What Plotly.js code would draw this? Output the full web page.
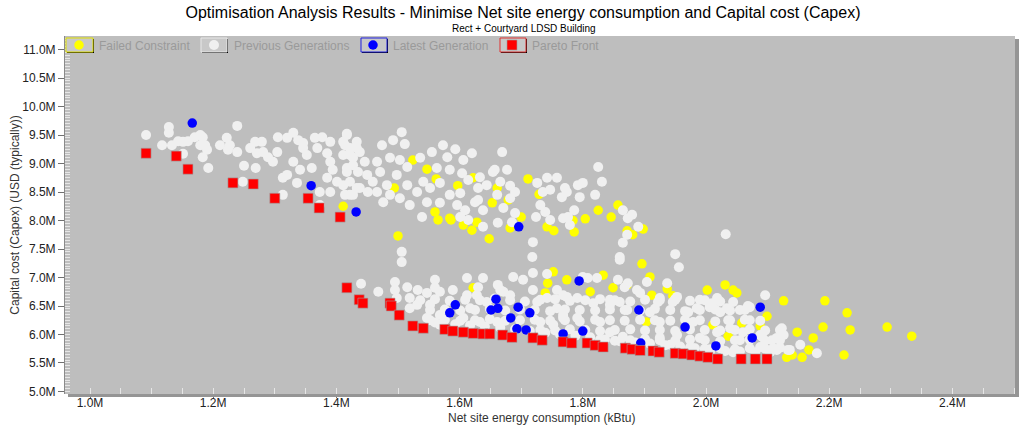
<!DOCTYPE html>
<html><head><meta charset="utf-8">
<script src="https://cdn.plot.ly/plotly-3.0.1.min.js"></script>
<style>html,body{margin:0;padding:0;background:#fff;}#chart{width:1023px;height:425px;}</style>
</head><body><div id="chart"></div>
<script>
// ---- data (energy in M kBtu, capex in M USD) ----
const failedEnergy = [1.411,1.500,1.565,1.586,1.606,1.620,1.628,1.648,1.682,1.700,
1.711,1.729,1.742,1.753,1.524,1.547,1.562,1.494,1.597,1.622,
1.661,1.679,1.653,1.560,1.825,1.804,1.784,1.786,1.846,1.857,
1.872,1.881,1.898,1.584,1.896,1.752,1.743,1.739,1.774,1.833,
1.849,1.812,1.909,1.937,1.912,1.946,2.002,2.031,2.044,2.050,
2.126,2.148,2.099,2.088,2.131,2.140,1.622,1.903,2.011,2.036,
2.193,2.229,2.234,2.294,2.334,2.190,2.174,2.224,2.167,2.156,
1.872,2.058];
const failedCapex = [8.25,7.73,8.01,8.01,7.92,7.83,7.97,7.68,7.87,8.06,
8.73,8.46,7.89,7.82,9.06,8.90,8.73,8.57,8.61,8.75,
8.57,8.36,8.31,8.15,8.18,8.03,8.00,7.80,8.06,8.27,
7.82,7.75,7.85,8.04,7.24,7.10,6.90,6.73,6.96,7.04,
6.82,6.75,7.01,6.80,6.69,6.68,6.78,6.87,6.78,6.73,
6.59,6.04,6.32,6.15,5.60,5.64,6.82,6.22,6.17,5.97,
6.59,6.38,6.08,6.13,5.97,6.13,5.94,5.64,5.73,5.60,
6.87,6.20];

const prevUpperEnergy = [1.091,1.128,1.128,1.117,1.133,1.143,1.151,1.159,1.170,1.179,
1.183,1.179,1.187,1.190,1.183,1.192,1.151,1.239,1.222,1.211,
1.227,1.239,1.224,1.250,1.269,1.248,1.260,1.268,1.279,1.271,
1.281,1.289,1.297,1.304,1.305,1.320,1.330,1.338,1.346,1.365,
1.377,1.320,1.313,1.336,1.341,1.330,1.352,1.360,1.346,1.369,
1.385,1.390,1.394,1.385,1.373,1.390,1.401,1.417,1.414,1.422,
1.433,1.427,1.417,1.411,1.422,1.433,1.313,1.373,1.411,1.390,
1.417,1.433,1.422,1.411,1.427,1.438,1.446,1.417,1.435,1.450,
1.422,1.438,1.427,1.414,1.451,1.466,1.459,1.471,1.466,1.474,
1.492,1.506,1.511,1.487,1.503,1.515,1.498,1.482,1.487,1.476,
1.503,1.519,1.515,1.531,1.541,1.552,1.536,1.555,1.573,1.593,
1.580,1.606,1.620,1.563,1.584,1.604,1.614,1.633,1.644,1.568,
1.584,1.568,1.547,1.596,1.609,1.625,1.638,1.630,1.654,1.669,
1.677,1.666,1.682,1.661,1.682,1.671,1.690,1.638,1.614,1.539,
1.662,1.685,1.719,1.726,1.742,1.758,1.735,1.747,1.731,1.739,
1.747,1.766,1.774,1.768,1.779,1.657,1.771,1.792,1.800,1.795,
1.724,1.786,1.776,1.825,1.831,1.820,1.865,1.880,1.873,1.890,
1.872,1.865,1.860,1.718,1.950,2.032,1.690,1.630,1.601,1.601,
1.506,1.506,1.956];
const prevUpperCapex = [9.50,9.64,9.54,9.32,9.32,9.39,9.38,9.39,9.46,9.50,
9.46,9.32,9.32,9.24,9.11,8.92,9.17,9.66,9.45,9.32,
9.32,9.20,9.24,8.96,8.92,8.68,9.27,9.38,9.38,9.18,
9.20,9.11,9.03,9.20,9.46,9.45,9.54,9.41,9.36,9.45,
9.46,8.80,8.75,8.66,8.89,9.03,9.15,8.92,9.27,9.27,
9.18,9.03,8.89,8.75,8.50,8.50,8.68,9.50,9.32,9.15,
9.27,8.97,8.85,8.62,8.45,8.57,8.45,8.27,9.38,9.38,
9.52,9.38,9.27,9.15,9.10,9.20,9.03,8.92,8.85,8.80,
8.68,8.57,8.45,8.45,8.50,8.50,8.68,8.85,9.03,9.32,
9.41,9.55,9.34,9.10,9.06,8.94,8.80,8.62,8.45,8.32,
8.39,8.27,8.62,8.50,8.68,8.57,9.10,9.20,9.32,9.25,
9.11,9.06,9.18,8.92,8.89,8.83,8.71,8.76,8.62,8.66,
8.45,8.31,8.32,8.27,8.18,8.32,8.18,8.57,8.85,9.20,
8.89,8.68,8.61,8.45,8.39,8.22,8.50,7.89,8.01,8.06,
7.96,7.97,7.62,8.66,8.75,8.75,8.50,8.54,8.27,8.15,
8.01,8.41,8.50,8.04,7.92,8.89,8.57,8.62,8.66,8.41,
8.06,8.18,8.06,8.94,8.68,8.45,8.18,8.10,8.04,7.89,
7.75,7.61,7.36,7.36,7.41,7.76,8.13,8.36,8.06,8.48,
7.45,7.27,7.18];

const prevLowerEnergy = [1.440,1.468,1.495,1.495,1.515,1.532,1.547,1.560,1.560,1.568,
1.612,1.638,1.687,1.703,1.662,1.719,1.498,1.519,1.531,1.552,
1.547,1.519,1.568,1.568,1.606,1.617,1.628,1.644,1.612,1.671,
1.682,1.661,1.633,1.726,1.731,1.742,1.758,1.752,1.768,1.768,
1.589,1.630,1.666,1.719,1.742,1.758,1.774,1.800,1.823,1.860,
1.844,1.873,1.893,1.904,1.922,1.937,1.950,1.971,1.990,2.006,
2.023,2.044,2.055,2.071,2.096,2.107,2.115,2.133,2.123,2.039,
2.044,2.055,2.088,1.860,1.808,1.857,1.868,1.888,1.925,1.946,
1.953,2.010,2.018,2.034,2.071,2.036,2.060,2.088,2.115,2.126,
2.109,2.136,1.985,1.979,1.990,2.018,1.953,1.925,1.909,1.872,
1.844,1.817,1.791,1.768,1.791,1.828,1.844,1.865,1.925,1.942,
1.979,2.006,2.180,2.091,2.068,2.153];
const prevLowerCapex = [6.89,6.75,6.92,6.78,6.83,6.78,6.73,6.96,6.82,6.75,
6.99,6.99,7.01,6.96,6.87,6.78,6.64,6.64,6.52,6.52,
6.29,6.46,6.34,6.17,6.29,6.46,6.69,6.57,6.69,6.75,
6.69,6.22,6.22,6.57,6.22,6.64,6.46,6.17,6.29,6.69,
6.78,6.83,6.78,7.08,7.06,6.78,6.66,7.01,6.99,6.57,
6.61,6.90,6.73,6.92,6.57,6.90,6.61,6.39,6.61,6.48,
6.39,6.57,6.43,6.25,6.69,5.90,5.73,5.73,6.11,6.11,
5.69,5.90,5.78,7.31,6.99,6.96,6.83,6.78,6.64,6.57,
6.66,6.55,6.64,6.46,6.48,6.25,6.04,5.99,5.94,5.99,
5.76,5.73,6.46,6.22,5.94,6.04,5.99,6.22,6.39,6.43,
6.52,6.55,6.64,6.34,6.29,6.22,6.04,5.96,5.94,5.82,
5.76,5.69,5.67,5.96,6.50,5.82];

// dense core of the lower cloud
const prevCoreEnergy = [1.536,1.560,1.584,1.609,1.633,1.657,1.682,1.706,1.731,1.755,1.779,1.804,1.828,1.852,1.877,1.901,1.925,1.950,1.974,1.998,2.023,
1.552,1.576,1.601,1.625,1.649,1.674,1.698,1.722,1.747,1.771,1.795,1.820,1.844,1.868,1.893,1.917,1.942,1.966,1.990,2.015,2.039,2.063,
1.552,1.576,1.601,1.625,1.649,1.674,1.698,1.722,1.747,1.771,1.795,1.820,1.844,1.868,1.893,1.917,1.942,1.966,1.990,2.015,2.039,2.063,2.088,
1.560,1.593,1.617,1.641,1.666,1.690,1.714,1.739,1.763,1.788,1.812,1.836,1.860,1.885,1.909,1.934,1.958,1.982,2.007,2.031,2.055,2.080,2.104,
1.731,1.755,1.779,1.804,1.828,1.852,1.877,1.901,1.925,1.950,1.974,1.998,2.023,2.047,2.071,2.096,2.120,
1.828,1.852,1.877,1.901,1.925,1.950,1.974,1.998,2.023,2.047,2.071,2.096,2.120,
1.974,1.998,2.023,2.047,2.071,2.096,2.120];
const prevCoreCapex = [6.60,6.62,6.59,6.61,6.60,6.63,6.60,6.58,6.61,6.62,6.59,6.60,6.62,6.60,6.58,6.61,6.60,6.62,6.59,6.60,6.58,
6.43,6.44,6.42,6.43,6.45,6.42,6.44,6.43,6.41,6.44,6.43,6.42,6.44,6.43,6.42,6.45,6.43,6.41,6.43,6.44,6.42,6.43,
6.25,6.26,6.24,6.25,6.27,6.24,6.25,6.26,6.24,6.25,6.23,6.26,6.25,6.24,6.26,6.25,6.24,6.26,6.25,6.23,6.25,6.26,6.24,
6.21,6.18,6.16,6.14,6.12,6.09,6.06,6.03,6.00,5.98,5.95,5.91,5.88,5.86,5.84,5.81,5.79,5.76,5.74,5.71,5.70,5.69,5.69,
6.08,6.07,6.09,6.08,6.06,6.08,6.09,6.07,6.08,6.06,6.09,6.08,6.07,6.08,6.09,6.07,6.08,
5.91,5.89,5.90,5.92,5.90,5.89,5.91,5.90,5.88,5.90,5.91,5.89,5.90,
5.77,5.75,5.76,5.74,5.76,5.75,5.77];

const latestEnergy = [1.166,1.359,1.432,1.696,1.593,1.584,1.659,1.651,1.662,1.695,1.683,1.714,1.693,1.708,1.768,1.794,1.891,1.800,1.894,1.966,2.016,2.088,2.075];
const latestCapex  = [9.71,8.61,8.15,7.89,6.52,6.38,6.62,6.43,6.46,6.48,6.29,6.38,6.10,6.08,6.01,6.94,6.43,6.06,5.85,6.13,5.80,6.48,5.94];

const paretoEnergy = [1.091,1.140,1.159,1.232,1.265,1.300,1.354,1.372,1.406,1.417,1.437,1.443,1.487,1.489,1.502,1.524,1.541,1.576,1.589,1.606,1.622,1.638,1.649,1.670,1.685,1.719,1.734,1.768,1.782,1.807,1.820,1.833,1.869,1.880,1.893,1.914,1.924,1.950,1.963,1.977,1.990,2.003,2.019,2.057,2.080,2.099];
const paretoCapex  = [9.18,9.13,8.90,8.66,8.64,8.39,8.39,8.22,8.06,6.82,6.61,6.55,6.55,6.50,6.34,6.15,6.11,6.09,6.06,6.04,6.02,6.01,6.01,5.99,5.95,5.94,5.90,5.87,5.85,5.85,5.81,5.78,5.76,5.74,5.72,5.71,5.69,5.67,5.66,5.64,5.62,5.60,5.57,5.57,5.57,5.57];

const seriesNames = ['Failed Constraint','Previous Generations','Latest Generation','Pareto Front'];
const titleText = 'Optimisation Analysis Results - Minimise Net site energy consumption and Capital cost (Capex)';
const subtitleText = 'Rect + Courtyard LDSD Building';
const xTitle = 'Net site energy consumption (kBtu)';
const yTitle = 'Capital cost (Capex) (USD (typically))';

// ---- layout helpers ----
const W = 1023, H = 425, M = {l:65, r:8, t:36, b:31};
const PW = W - M.l - M.r, PH = H - M.t - M.b;
const pxX = x => (x - M.l) / PW;
const pxY = y => (H - M.b - y) / PH;
const FONT = 'Liberation Sans, Arial, sans-serif';

const prevEnergy = prevUpperEnergy.concat(prevLowerEnergy, prevCoreEnergy);
const prevCapex = prevUpperCapex.concat(prevLowerCapex, prevCoreCapex);

const traces = [
  {type:'scatter', mode:'markers', name:seriesNames[0], x:failedEnergy, y:failedCapex, legend:'legend',
   marker:{color:'#ffff00', size:9.5, line:{width:0}}, hoverinfo:'skip'},
  {type:'scatter', mode:'markers', name:seriesNames[1], x:prevEnergy, y:prevCapex, legend:'legend2',
   marker:{color:'#f0f0f0', size:10, line:{width:0}}, hoverinfo:'skip'},
  {type:'scatter', mode:'markers', name:seriesNames[2], x:latestEnergy, y:latestCapex, legend:'legend3',
   marker:{color:'#0000ff', size:9.5, line:{width:0}}, hoverinfo:'skip'},
  {type:'scatter', mode:'markers', name:seriesNames[3], x:paretoEnergy, y:paretoCapex, legend:'legend4',
   marker:{color:'#ff0000', symbol:'square', size:10, line:{width:0.6, color:'#a0a0a0'}}, hoverinfo:'skip'}
];

function legendAt(textStartPx){
  return {x: pxX(textStartPx - 40), y: pxY(45), xanchor:'left', yanchor:'middle',
    bgcolor:'rgba(0,0,0,0)', borderwidth:0, itemwidth:30,
    font:{family:FONT, size:12, color:'#9a9a9a'}};
}
function frame(x0, x1, color){
  return [
    {type:'rect', xref:'paper', yref:'paper', x0:pxX(x0+1), x1:pxX(x1+1), y0:pxY(53), y1:pxY(39),
     fillcolor:'#000000', line:{width:0}},
    {type:'rect', xref:'paper', yref:'paper', x0:pxX(x0), x1:pxX(x1), y0:pxY(52), y1:pxY(38),
     fillcolor:'#c8c8c8', line:{width:1, color:color}}
  ];
}
const shapes = [
  {type:'rect', xref:'paper', yref:'paper', x0:1, x1:pxX(1019), y0:pxY(397), y1:pxY(39), fillcolor:'#959595', line:{width:0}},
  {type:'rect', xref:'paper', yref:'paper', x0:pxX(68), x1:pxX(1019), y0:pxY(397), y1:0, fillcolor:'#959595', line:{width:0}}
].concat(frame(66,93,'#e0e000'), frame(201,227,'#e8e8e8'), frame(361,387,'#2020e0'), frame(500,526,'#e03030'));

const layout = {
  width:W, height:H, margin:M,
  paper_bgcolor:'#ffffff', plot_bgcolor:'#bebebe',
  font:{family:FONT, size:12, color:'#222'},
  title:{text:titleText, x:523/W, xanchor:'center', y:1-12/H, yanchor:'middle', yref:'container',
         font:{family:FONT, size:16, color:'#000'}},
  annotations:[
    {text:subtitleText, xref:'paper', yref:'paper', x:pxX(524), y:pxY(28),
     xanchor:'center', yanchor:'middle', showarrow:false, font:{family:FONT, size:10, color:'#000'}},
    {text:xTitle, xref:'paper', yref:'paper', x:pxX(541), y:pxY(418),
     xanchor:'center', yanchor:'middle', showarrow:false, font:{family:FONT, size:12, color:'#333'}}
  ],
  xaxis:{range:[0.9594, 2.5016], dtick:0.2, tick0:0, tickformat:'.1f', ticksuffix:'M',
    ticks:'outside', ticklen:3, tickcolor:'#707070', ticklabelstandoff:-5,
    showgrid:false, zeroline:false, showline:false,
    tickfont:{family:FONT, size:12, color:'#222'},
    minor:{ticks:'inside', dtick:0.05, ticklen:6, tickcolor:'#e6e6e6', showgrid:false}},
  yaxis:{range:[4.956, 11.237], dtick:0.5, tick0:0, tickformat:'.1f', ticksuffix:'M',
    ticks:'outside', ticklen:6, tickcolor:'#707070', showgrid:false, zeroline:false,
    showline:true, linecolor:'#8a8a8a', linewidth:1,
    tickfont:{family:FONT, size:12, color:'#222'},
    minor:{ticks:'inside', dtick:0.05, ticklen:5, tickcolor:'#e6e6e6', showgrid:false},
    title:{text:yTitle, standoff:0, font:{family:FONT, size:12, color:'#333'}}},
  legend:legendAt(99), legend2:legendAt(234), legend3:legendAt(393), legend4:legendAt(532),
  shapes:shapes, showlegend:true
};

Plotly.newPlot('chart', traces, layout, {displayModeBar:false, staticPlot:true});
</script>
</body></html>
